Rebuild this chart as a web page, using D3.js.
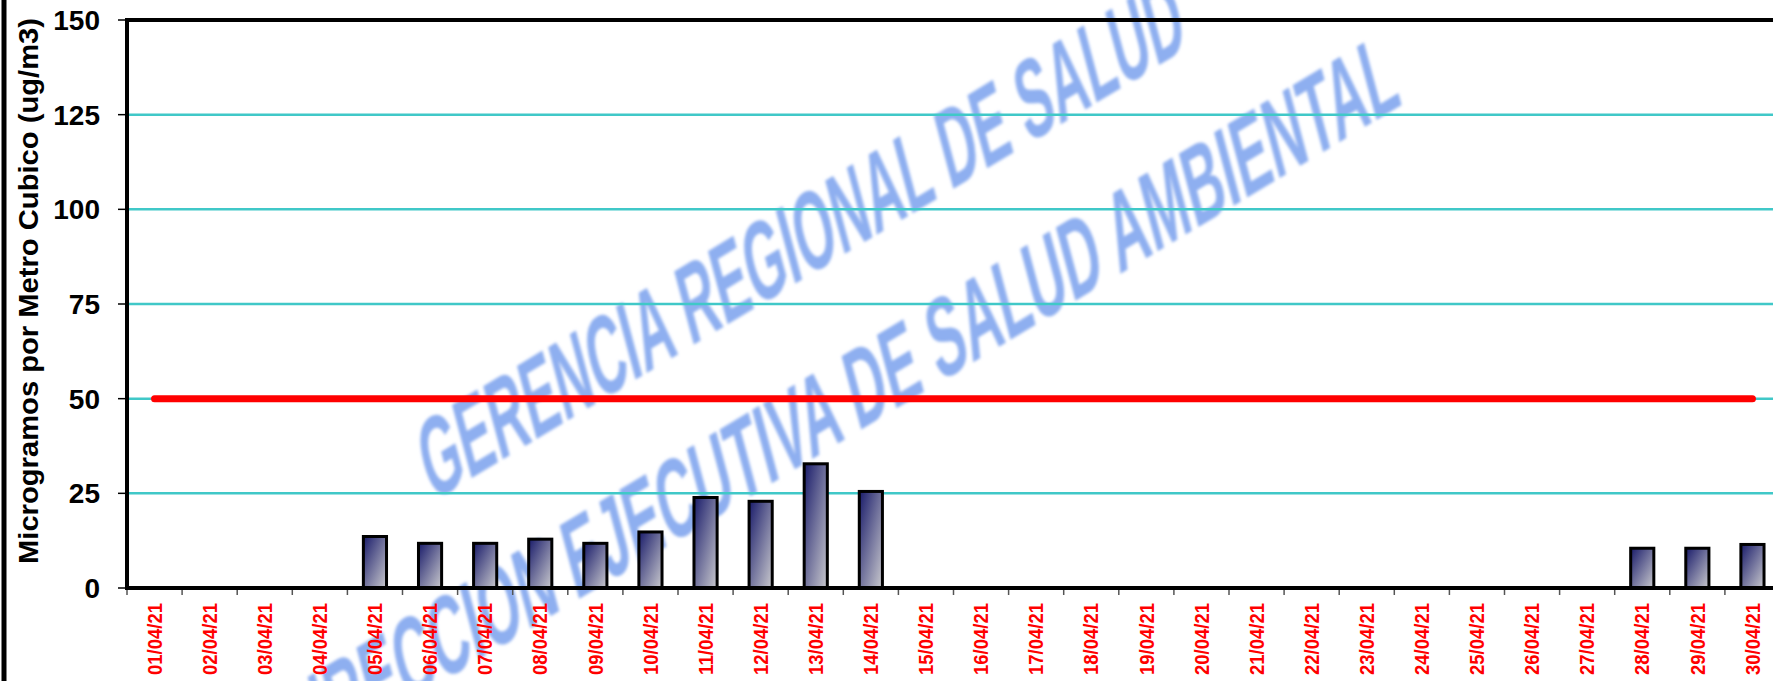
<!DOCTYPE html>
<html>
<head>
<meta charset="utf-8">
<script src="https://cdn.jsdelivr.net/npm/d3@7"></script>
<style>
  html, body { margin: 0; padding: 0; background: #fff; }
  svg { display: block; font-family: "Liberation Sans", Arial, sans-serif; }
</style>
</head>
<body>
<svg id="chart" width="1773" height="681"></svg>
<script>
const dates = [
  "01/04/21", "02/04/21", "03/04/21", "04/04/21", "05/04/21", "06/04/21",
  "07/04/21", "08/04/21", "09/04/21", "10/04/21", "11/04/21", "12/04/21",
  "13/04/21", "14/04/21", "15/04/21", "16/04/21", "17/04/21", "18/04/21",
  "19/04/21", "20/04/21", "21/04/21", "22/04/21", "23/04/21", "24/04/21",
  "25/04/21", "26/04/21", "27/04/21", "28/04/21", "29/04/21", "30/04/21",
];
const pm25 = [
  null, null, null, null, 13.6, 11.8,
  11.8, 12.9, 11.8, 14.8, 23.9, 22.9,
  32.8, 25.5, null, null, null, null,
  null, null, null, null, null, null,
  null, null, null, 10.5, 10.5, 11.5,
];
const limitValue = 50; // valor limite (linea roja)
const yTicks = [0, 25, 50, 75, 100, 125, 150];
const yTitle = "Microgramos por Metro Cubico (ug/m3)";
const watermark = ["GERENCIA REGIONAL DE SALUD", "DIRECCION EJECUTIVA DE SALUD AMBIENTAL"];

const WIDTH = 1773;
const HEIGHT = 681;
const LEFT = 127;
const TOP = 20;
const BOTTOM = 588;
const RIGHT = 1780; // the plot runs a little past the picture

const svg = d3.select("#chart");
const xScale = d3.scaleBand().domain(dates).range([LEFT, RIGHT]);
const yScale = d3.scaleLinear().domain([0, 150]).range([BOTTOM, TOP]);
const bw = xScale.bandwidth();
const barW = bw * 0.42;

const defs = svg.append("defs");
const grad = defs
  .append("linearGradient")
  .attr("id", "barGrad")
  .attr("x1", 0)
  .attr("y1", 0)
  .attr("x2", 1)
  .attr("y2", 1);
grad.append("stop").attr("offset", "0%").attr("stop-color", "#191b6a");
grad.append("stop").attr("offset", "100%").attr("stop-color", "#cacace");
defs
  .append("filter")
  .attr("id", "soft")
  .append("feGaussianBlur")
  .attr("stdDeviation", 1.4);

// marca de agua
const wmPos = [
  { x: 432, y: 502, anchor: "start", len: 884 },
  { x: 1403, y: 104, anchor: "end", len: 1300 },
];
svg
  .append("g")
  .attr("filter", "url(#soft)")
  .selectAll("text")
  .data(watermark)
  .enter()
  .append("text")
  .attr("transform", (d, i) => `translate(${wmPos[i].x},${wmPos[i].y}) rotate(-31) skewX(-16)`)
  .attr("text-anchor", (d, i) => wmPos[i].anchor)
  .attr("textLength", (d, i) => wmPos[i].len)
  .attr("lengthAdjust", "spacingAndGlyphs")
  .attr("font-size", 106)
  .attr("font-weight", "bold")
  .attr("fill", "#8eaff0")
  .text((d) => d);

// outer frame, left edge
svg
  .append("line")
  .attr("x1", 4)
  .attr("x2", 4)
  .attr("y1", 0)
  .attr("y2", HEIGHT)
  .attr("stroke", "#000")
  .attr("stroke-width", 5);

// grid
svg
  .append("g")
  .selectAll("line")
  .data(yTicks.filter((t) => t > 0 && t < 150))
  .enter()
  .append("line")
  .attr("x1", LEFT)
  .attr("x2", WIDTH)
  .attr("y1", (d) => yScale(d))
  .attr("y2", (d) => yScale(d))
  .attr("stroke", "#40c8c8")
  .attr("stroke-width", 2.5);

// barras
const barData = dates
  .map((d, i) => ({ date: d, value: pm25[i] }))
  .filter((d) => d.value !== null);
svg
  .append("g")
  .selectAll("rect")
  .data(barData)
  .enter()
  .append("rect")
  .attr("x", (d) => xScale(d.date) + (bw - barW) / 2)
  .attr("y", (d) => yScale(d.value))
  .attr("width", barW)
  .attr("height", (d) => yScale(0) - yScale(d.value))
  .attr("fill", "url(#barGrad)")
  .attr("stroke", "#000")
  .attr("stroke-width", 3);

// limite
const limitLine = d3
  .line()
  .x((d) => xScale(d) + bw / 2)
  .y(() => yScale(limitValue));
svg
  .append("path")
  .attr("d", limitLine([dates[0], dates[dates.length - 1]]))
  .attr("stroke", "#ff0000")
  .attr("stroke-width", 7)
  .attr("stroke-linecap", "round")
  .attr("fill", "none");

// ticks
svg
  .append("g")
  .selectAll("line")
  .data(dates)
  .enter()
  .append("line")
  .attr("x1", (d) => xScale(d))
  .attr("x2", (d) => xScale(d))
  .attr("y1", BOTTOM)
  .attr("y2", BOTTOM + 7)
  .attr("stroke", "#555")
  .attr("stroke-width", 1.5);
svg
  .append("g")
  .selectAll("line")
  .data(yTicks)
  .enter()
  .append("line")
  .attr("x1", LEFT - 9)
  .attr("x2", LEFT)
  .attr("y1", (d) => yScale(d))
  .attr("y2", (d) => yScale(d))
  .attr("stroke", "#000")
  .attr("stroke-width", 1.5);

// ejes y borde superior
const frame = [
  [LEFT - 2, TOP, WIDTH, TOP],
  [LEFT, TOP, LEFT, BOTTOM + 2],
  [LEFT - 2, BOTTOM, WIDTH, BOTTOM],
];
svg
  .append("g")
  .selectAll("line")
  .data(frame)
  .enter()
  .append("line")
  .attr("x1", (d) => d[0])
  .attr("y1", (d) => d[1])
  .attr("x2", (d) => d[2])
  .attr("y2", (d) => d[3])
  .attr("stroke", "#000")
  .attr("stroke-width", 4);

// etiquetas
svg
  .append("g")
  .selectAll("text")
  .data(yTicks)
  .enter()
  .append("text")
  .attr("x", 100)
  .attr("y", (d) => yScale(d))
  .attr("dy", "0.36em")
  .attr("text-anchor", "end")
  .attr("font-size", 28)
  .attr("font-weight", "bold")
  .attr("fill", "#000")
  .text((d) => d);

svg
  .append("g")
  .selectAll("text")
  .data(dates)
  .enter()
  .append("text")
  .attr("transform", (d) => `translate(${xScale(d) + bw / 2},603) rotate(-90)`)
  .attr("dy", "0.36em")
  .attr("text-anchor", "end")
  .attr("font-size", 20)
  .attr("font-weight", "bold")
  .attr("textLength", 72)
  .attr("lengthAdjust", "spacingAndGlyphs")
  .attr("fill", "#ff0000")
  .text((d) => d);

svg
  .append("text")
  .attr("transform", "translate(38,291) rotate(-90)")
  .attr("text-anchor", "middle")
  .attr("font-size", 27)
  .attr("font-weight", "bold")
  .attr("textLength", 546)
  .attr("lengthAdjust", "spacingAndGlyphs")
  .attr("fill", "#000")
  .text(yTitle);
</script>
</body>
</html>
